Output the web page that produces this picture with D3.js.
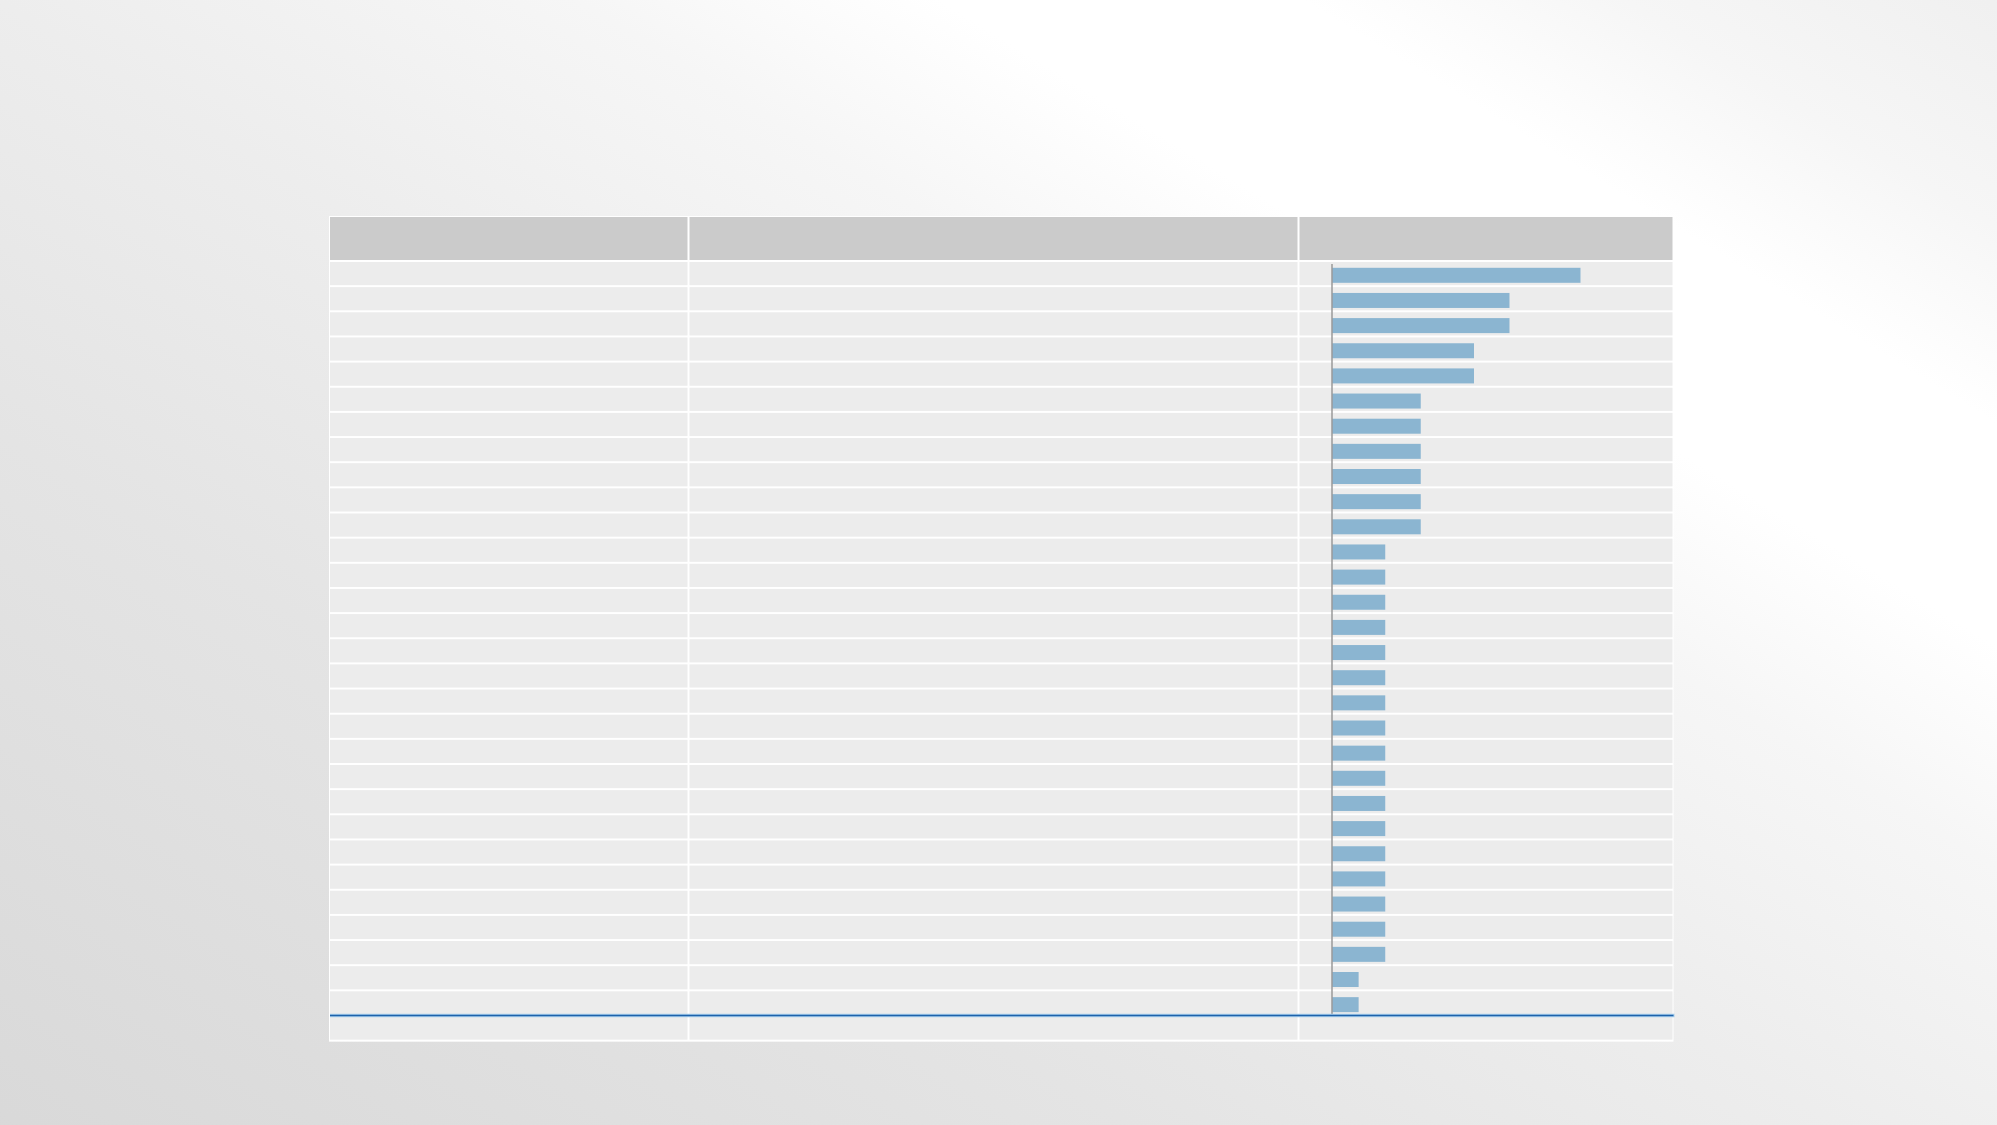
<!DOCTYPE html>
<html>
<head>
<meta charset="utf-8">
<script src="https://cdn.jsdelivr.net/npm/d3@7/dist/d3.min.js"></script>
<style>
html,body{margin:0;padding:0;overflow:hidden;background:#fff;}
svg{display:block;font-family:"Liberation Sans",Arial,sans-serif;}
</style>
</head>
<body>
<script>
// Column headers (blank in the reference)
const columns = ["", "", ""];
// Row labels (blank in the reference)
const rowLabels = ["","","","","","","","","","","","","","","","","","","","","","","","","","","","","",""];
const rowDescriptions = ["","","","","","","","","","","","","","","","","","","","","","","","","","","","","",""];
// Bar values, one per row
const values = [28,20,20,16,16,10,10,10,10,10,10,6,6,6,6,6,6,6,6,6,6,6,6,6,6,6,6,6,3,3];

const W = 1997, H = 1125;
const svg = d3.select("body").append("svg").attr("width", W).attr("height", H);
const defs = svg.append("defs");

// background sheen
const g = defs.append("linearGradient").attr("id","bg").attr("gradientUnits","userSpaceOnUse")
  .attr("x1",316).attr("y1",1365).attr("x2",1410).attr("y2",-426);
[[0,"#d8d8d8"],[0.3,"#e4e4e4"],[0.476,"#ededed"],[0.62,"#f6f6f6"],[0.71,"#ffffff"],[0.8,"#ffffff"],[0.88,"#f6f6f6"],[1,"#eeeeee"]]
  .forEach(([o,c])=>g.append("stop").attr("offset",o).attr("stop-color",c));
svg.append("rect").attr("width",W).attr("height",H).attr("fill","url(#bg)");

// table geometry
const colEdges = [329, 688.5, 1298.5, 1673.5];
const headerTop = 216, headerBottom = 261;
const nRows = values.length + 1;
const rowStep = 25.15;
const y = d3.scaleBand().domain(d3.range(nRows)).range([headerBottom, headerBottom + nRows*rowStep]).padding(0);

// table white frame
svg.append("rect").attr("x",colEdges[0]).attr("y",headerTop)
  .attr("width",colEdges[3]-colEdges[0]).attr("height",y.range()[1]-headerTop+1).attr("fill","#ffffff");

// header cells
svg.append("g").selectAll("rect").data(columns).join("rect")
  .attr("x",(d,i)=>colEdges[i]+1).attr("y",headerTop+1)
  .attr("width",(d,i)=>colEdges[i+1]-colEdges[i]-2).attr("height",headerBottom-headerTop-2)
  .attr("fill","#cbcbcb");
svg.append("g").selectAll("text").data(columns).join("text")
  .attr("x",(d,i)=>colEdges[i]+10).attr("y",(headerTop+headerBottom)/2+5)
  .attr("font-size",14).attr("fill","#333").text(d=>d);

// body cells
const rowsIdx = d3.range(nRows);
const cells = [];
rowsIdx.forEach(r=>{ for(let c=0;c<3;c++) cells.push({r,c}); });
svg.append("g").selectAll("rect").data(cells).join("rect")
  .attr("x",d=>colEdges[d.c]+1).attr("y",d=>y(d.r)+1)
  .attr("width",d=>colEdges[d.c+1]-colEdges[d.c]-2).attr("height",y.bandwidth()-2)
  .attr("fill","#ececec");

// row texts (blank)
svg.append("g").selectAll("text").data(rowLabels).join("text")
  .attr("x",colEdges[0]+10).attr("y",(d,i)=>y(i)+y.bandwidth()/2+5).attr("font-size",13).text(d=>d);
svg.append("g").selectAll("text").data(rowDescriptions).join("text")
  .attr("x",colEdges[1]+10).attr("y",(d,i)=>y(i)+y.bandwidth()/2+5).attr("font-size",13).text(d=>d);

// bars
const x = d3.scaleLinear().domain([0, 28]).range([1332, 1580.5]);
svg.append("g").selectAll("rect").data(values).join("rect")
  .attr("x",x(0)).attr("y",(d,i)=>y(i)+6.8)
  .attr("width",d=>x(d)-x(0)).attr("height",15)
  .attr("fill","#8bb5d1");

// zero axis line
svg.append("line").attr("x1",x(0)).attr("x2",x(0))
  .attr("y1",y(0)+3).attr("y2",y(values.length))
  .attr("stroke","#9a9a9a").attr("stroke-width",1.5);

// blue baseline
const by = y(values.length);
svg.append("line").attr("x1",colEdges[0]+1).attr("x2",colEdges[3]+1).attr("y1",by).attr("y2",by)
  .attr("stroke","#a9d0ee").attr("stroke-width",3.5);
svg.append("line").attr("x1",colEdges[0]+1).attr("x2",colEdges[3]).attr("y1",by).attr("y2",by)
  .attr("stroke","#1f62aa").attr("stroke-width",1.6);
</script>
</body>
</html>
